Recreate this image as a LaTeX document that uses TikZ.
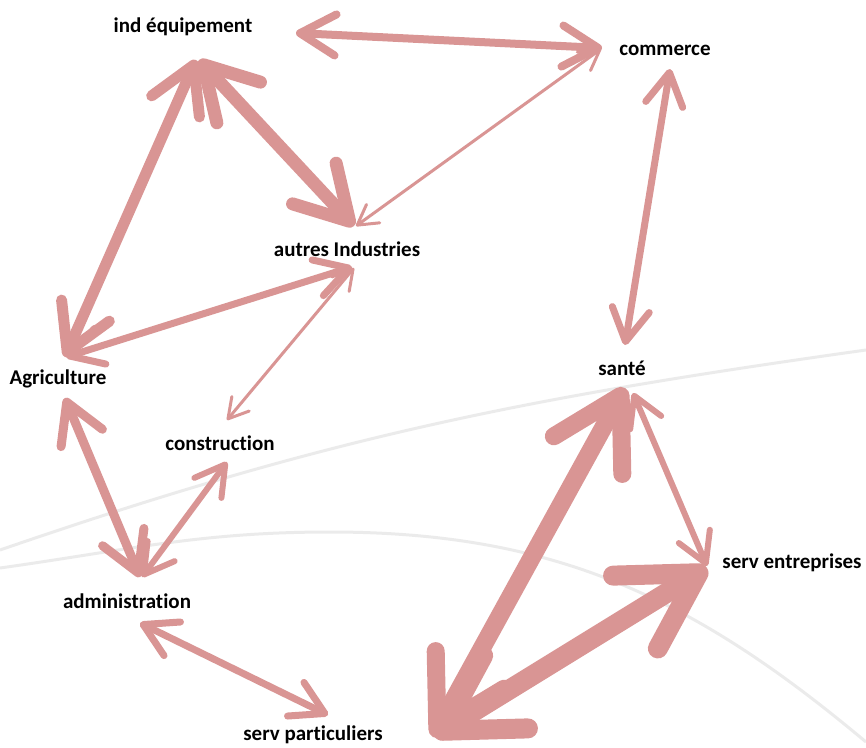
\documentclass[tikz,border=0pt]{standalone}
\usepackage{fontspec}
\setmainfont{Carlito}[Ligatures=NoCommon]
\usetikzlibrary{arrows.meta}
\definecolor{LinkPink}{HTML}{D99594}
\definecolor{ArcGray}{HTML}{EBEBEB}

\begin{document}
\begin{tikzpicture}[
  x=1pt, y=-1pt,
  sectorlabel/.style={font=\bfseries\fontsize{21}{23}\selectfont, inner sep=0pt},
  flowlink/.style={
    draw=LinkPink,
    line width=#1,
    line cap=round,
    {Straight Barb[length=10pt 3.2, width=11.5pt 3.7, round]}-{Straight Barb[length=10pt 3.2, width=11.5pt 3.7, round]}
  },
  bgarc/.style={draw=ArcGray, line width=3pt}
]
\useasboundingbox (0,0) rectangle (866,747);
% background arcs
\draw[bgarc] (0,550) to[out=19, in=188] (866,350);
\draw[bgarc] (0,568) to[out=8, in=180] (330,532) to[out=0, in=140] (866,742);
% sectors
\node[sectorlabel] (ind) at (183,27) {ind équipement};
\node[sectorlabel] (com) at (665,50) {commerce};
\node[sectorlabel] (autres) at (347,249) {autres Industries};
\node[sectorlabel] (agri) at (58,379) {Agriculture};
\node[sectorlabel] (sante) at (622,368) {santé};
\node[sectorlabel] (constr) at (220,443) {construction};
\node[sectorlabel] (entr) at (792,563) {serv entreprises};
\node[sectorlabel] (admin) at (127,601) {administration};
\node[sectorlabel] (part) at (313,735) {serv particuliers};
% links
\draw[flowlink=8pt] ([shift={(113,6)}]ind.center) -- ([shift={(-63,-2)}]com.center);
\draw[flowlink=13pt] ([shift={(16,33)}]ind.center) -- ([shift={(7,-23)}]autres.center);
\draw[flowlink=11pt] ([shift={(13,33)}]ind.center) -- ([shift={(7,-22)}]agri.center);
\draw[flowlink=3pt] ([shift={(-64,-1)}]com.center) -- ([shift={(9,-23)}]autres.center);
\draw[flowlink=7pt] ([shift={(5,19)}]com.center) -- ([shift={(3,-23)}]sante.center);
\draw[flowlink=7pt] ([shift={(5,18)}]autres.center) -- ([shift={(8,-22)}]agri.center);
\draw[flowlink=3pt] ([shift={(7,19)}]autres.center) -- ([shift={(7,-23)}]constr.center);
\draw[flowlink=9pt] ([shift={(7,19)}]agri.center) -- ([shift={(13,-24)}]admin.center);
\draw[flowlink=6pt] ([shift={(7,19)}]constr.center) -- ([shift={(15,-24)}]admin.center);
\draw[flowlink=7pt] ([shift={(13,22)}]admin.center) -- ([shift={(15,-20)}]part.center);
\draw[flowlink=18pt] ([shift={(3,20)}]sante.center) -- ([shift={(120,2)}]part.center);
\draw[flowlink=6pt] ([shift={(11,25)}]sante.center) -- ([shift={(-85,3)}]entr.center);
\draw[flowlink=20pt] ([shift={(-85,5)}]entr.center) -- ([shift={(121,1)}]part.center);
\end{tikzpicture}
\end{document}
